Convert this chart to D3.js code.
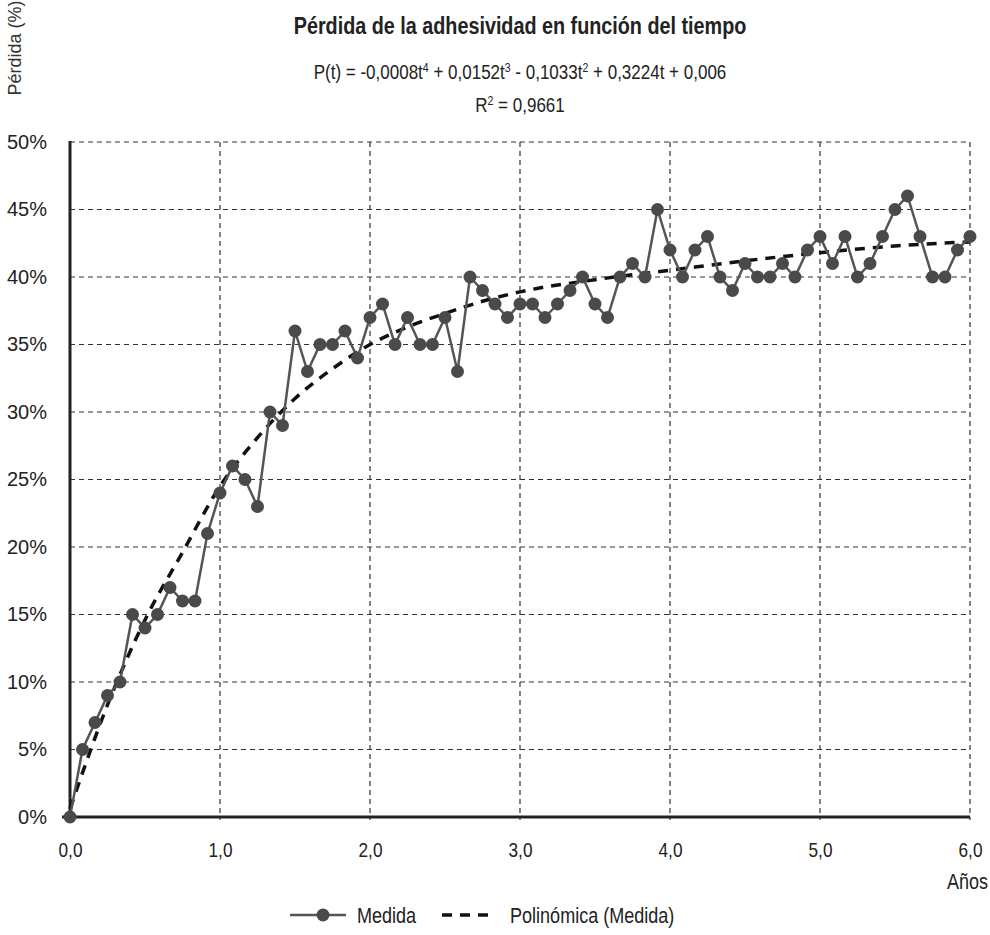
<!DOCTYPE html>
<html>
<head>
<meta charset="utf-8">
<script src="https://cdn.jsdelivr.net/npm/d3@7"></script>
<style>
  body { margin: 0; background: #fff; }
  svg { display: block; }
</style>
</head>
<body>
<div id="chart"></div>
<script>
// Pérdida medida, un valor por mes (t = mes / 12 años)
const medida = [
  0, 5, 7, 9, 10, 15, 14, 15, 17, 16, 16, 21,
  24, 26, 25, 23, 30, 29, 36, 33, 35, 35, 36, 34,
  37, 38, 35, 37, 35, 35, 37, 33, 40, 39, 38, 37,
  38, 38, 37, 38, 39, 40, 38, 37, 40, 41, 40, 45,
  42, 40, 42, 43, 40, 39, 41, 40, 40, 41, 40, 42,
  43, 41, 43, 40, 41, 43, 45, 46, 43, 40, 40, 42,
  43
];

// Línea de tendencia polinómica
const trendT = [0, 0.25, 0.5, 0.75, 1.0, 1.25, 1.5, 1.75, 2.0, 2.25, 2.5, 2.75, 3.0, 3.5, 4.0, 4.5, 5.0, 5.5, 6.0];
const trendP = [0.6, 8.3, 14.6, 19.6, 24.5, 28.1, 31.0, 33.2, 35.0, 36.3, 37.3, 38.2, 38.9, 39.8, 40.5, 41.2, 41.8, 42.3, 42.6];

const xTicks = [0, 1, 2, 3, 4, 5, 6];
const yTicks = [0, 5, 10, 15, 20, 25, 30, 35, 40, 45, 50];

const data = medida.map((v, i) => ({t: i / 12, p: v}));
const trend = trendT.map((t, i) => ({t: t, p: trendP[i]}));

const width = 990, height = 935;
const margins = {top: 142, right: 20, bottom: 118, left: 70};
const font = "'Liberation Sans', Arial, sans-serif";

const svg = d3.select("#chart")
  .append("svg")
  .attr("width", width)
  .attr("height", height)
  .attr("viewBox", [0, 0, width, height]);

const xScale = d3.scaleLinear()
  .domain([0, 6])
  .range([margins.left, width - margins.right]);

const yScale = d3.scaleLinear()
  .domain([0, 50])
  .range([height - margins.bottom, margins.top]);

const fmt = d3.formatLocale({decimal: ",", thousands: ".", grouping: [3], currency: ["", "€"]});

// texto estrecho (imitación de Arial Narrow)
const narrowText = (parent, x, y, size, anchor, squeeze = 0.82) => parent.append("text")
  .attr("transform", `translate(${x},${y}) scale(${squeeze},1)`)
  .attr("font-family", font)
  .attr("font-size", size)
  .attr("text-anchor", anchor)
  .attr("fill", "#222");

// rejilla
svg.append("g")
  .selectAll("line")
  .data(yTicks.filter(d => d > 0))
  .join("line")
    .attr("x1", xScale(0))
    .attr("x2", xScale(6))
    .attr("y1", d => yScale(d))
    .attr("y2", d => yScale(d))
    .attr("stroke", "#333")
    .attr("stroke-width", 1.2)
    .attr("stroke-dasharray", "5,4");

svg.append("g")
  .selectAll("line")
  .data(xTicks.filter(d => d > 0))
  .join("line")
    .attr("x1", d => xScale(d))
    .attr("x2", d => xScale(d))
    .attr("y1", yScale(50))
    .attr("y2", yScale(0) + 3)
    .attr("stroke", "#333")
    .attr("stroke-width", 1.2)
    .attr("stroke-dasharray", "5,4");

// ejes
const yAxis = d3.axisLeft(yScale)
  .tickValues(yTicks)
  .tickSize(0)
  .tickPadding(23)
  .tickFormat(d => d + "%");

svg.append("g")
    .attr("transform", `translate(${margins.left},0)`)
  .call(yAxis)
  .call(g => g.select(".domain").remove())
  .call(g => g.selectAll("text")
    .attr("font-family", font)
    .attr("font-size", 20)
    .attr("fill", "#222"));

const xAxis = d3.axisBottom(xScale)
  .tickValues(xTicks)
  .tickSize(0)
  .tickPadding(25)
  .tickFormat(fmt.format(".1f"));

svg.append("g")
    .attr("transform", `translate(0,${height - margins.bottom})`)
  .call(xAxis)
  .call(g => g.select(".domain").remove())
  .call(g => g.selectAll("text")
    .attr("transform", "scale(0.82,1)")
    .attr("font-family", font)
    .attr("font-size", 21)
    .attr("fill", "#222"));

svg.append("line")
  .attr("x1", margins.left)
  .attr("x2", margins.left)
  .attr("y1", yScale(50) - 1)
  .attr("y2", yScale(0))
  .attr("stroke", "#222")
  .attr("stroke-width", 3);

svg.append("line")
  .attr("x1", margins.left - 8)
  .attr("x2", xScale(6))
  .attr("y1", yScale(0))
  .attr("y2", yScale(0))
  .attr("stroke", "#222")
  .attr("stroke-width", 3);

// tendencia
const trendLine = d3.line()
  .curve(d3.curveMonotoneX)
  .x(d => xScale(d.t))
  .y(d => yScale(d.p));

svg.append("path")
  .datum(trend)
  .attr("d", trendLine)
  .attr("fill", "none")
  .attr("stroke", "#111")
  .attr("stroke-width", 3.5)
  .attr("stroke-dasharray", "10,8");

// serie medida
const line = d3.line()
  .x(d => xScale(d.t))
  .y(d => yScale(d.p));

svg.append("path")
  .datum(data)
  .attr("d", line)
  .attr("fill", "none")
  .attr("stroke", "#555")
  .attr("stroke-width", 2.5);

svg.append("g")
  .selectAll("circle")
  .data(data)
  .join("circle")
    .attr("cx", d => xScale(d.t))
    .attr("cy", d => yScale(d.p))
    .attr("r", 6.5)
    .attr("fill", "#4a4a4a");

// títulos
narrowText(svg, 520, 34, 23, "middle", 0.86)
  .attr("font-weight", "bold")
  .text("Pérdida de la adhesividad en función del tiempo");

const eq = narrowText(svg, 520, 79, 21, "middle", 0.81);
const eqParts = [
  ["P(t) = -0,0008t", false], ["4", true], [" + 0,0152t", false], ["3", true],
  [" - 0,1033t", false], ["2", true], [" + 0,3224t + 0,006", false]
];
eqParts.forEach(([s, sup]) => {
  eq.append("tspan")
    .attr("font-size", sup ? 13 : 21)
    .attr("baseline-shift", sup ? "50%" : null)
    .text(s);
});

const r2 = narrowText(svg, 520, 112, 21, "middle", 0.81);
r2.append("tspan").text("R");
r2.append("tspan").attr("font-size", 13).attr("baseline-shift", "50%").text("2");
r2.append("tspan").text(" = 0,9661");

svg.append("text")
  .attr("transform", "rotate(-90)")
  .attr("x", -48)
  .attr("y", 21)
  .attr("text-anchor", "middle")
  .attr("font-family", font)
  .attr("font-size", 18)
  .attr("fill", "#333")
  .text("Pérdida (%)");

narrowText(svg, 988, 889, 22, "end").text("Años");

// leyenda
const legend = svg.append("g").attr("transform", "translate(0,915)");
legend.append("line")
  .attr("x1", 290).attr("x2", 346)
  .attr("stroke", "#555").attr("stroke-width", 2.5);
legend.append("circle")
  .attr("cx", 323).attr("r", 6.5).attr("fill", "#4a4a4a");
narrowText(legend, 357, 8, 22, "start").text("Medida");
legend.append("line")
  .attr("x1", 442).attr("x2", 488)
  .attr("stroke", "#111").attr("stroke-width", 3.5)
  .attr("stroke-dasharray", "10,8");
narrowText(legend, 510, 8, 22, "start").text("Polinómica (Medida)");
</script>
</body>
</html>
